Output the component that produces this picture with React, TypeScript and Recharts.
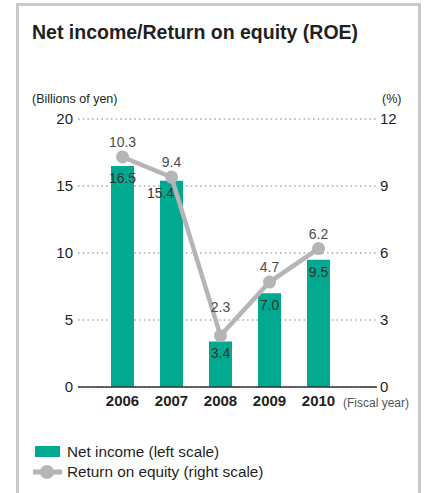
import { ComposedChart, Bar, Line, XAxis, YAxis, CartesianGrid, LabelList } from "recharts";

const years = ["2006", "2007", "2008", "2009", "2010"];
const netIncome = [16.5, 15.4, 3.4, 7.0, 9.5];
const roe = [10.3, 9.4, 2.3, 4.7, 6.2];
const leftTicks = [0, 5, 10, 15, 20];
const rightTicks = [0, 3, 6, 9, 12];

const data = years.map((year, i) => ({ year, income: netIncome[i], roe: roe[i] }));

const TEAL = "#00a98f";
const GRAY = "#b5b5b5";
const INK = "#231f20";
const FONT = "'Liberation Sans', Arial, Helvetica, sans-serif";

// small nudges so labels don't sit on the line (by category index)
const barLabelShift: Record<number, number> = { 1: -11 };
const roeLabelLift: Record<number, number> = { 2: 14 };

function BarValue(props: any) {
  const { x, y, width, value, index } = props;
  const cx = x + width / 2 + (barLabelShift[index] || 0);
  return (
    <text x={cx} y={y + 17} textAnchor="middle" fontSize={14} fill="#333" fontFamily={FONT}>
      {value.toFixed(1)}
    </text>
  );
}

function RoeValue(props: any) {
  const { x, y, value, index } = props;
  return (
    <text x={x} y={y - 10 - (roeLabelLift[index] || 0)} textAnchor="middle" fontSize={14} fill="#4d4d4d" fontFamily={FONT}>
      {value.toFixed(1)}
    </text>
  );
}

export default function App() {
  return (
    <div style={{ position: "absolute", left: 0, top: 0, width: 426, height: 493, background: "#fff", fontFamily: FONT, overflow: "hidden" }}>
      <div
        style={{
          position: "absolute",
          left: 16,
          top: 3,
          width: 405,
          height: 500,
          boxSizing: "border-box",
          borderStyle: "solid",
          borderColor: "#c9cacb",
          borderWidth: "3px 3px 0 3px",
        }}
      />
      <div style={{ position: "absolute", left: 32, top: 21, fontSize: 19.5, fontWeight: 700, color: INK, whiteSpace: "nowrap" }}>
        Net income/Return on equity (ROE)
      </div>
      <div style={{ position: "absolute", left: 32, top: 92, fontSize: 12.5, color: INK }}>(Billions of yen)</div>
      <div style={{ position: "absolute", left: 382, top: 92, fontSize: 12.5, color: INK }}>(%)</div>
      <div style={{ position: "absolute", left: 343, top: 396, fontSize: 12, color: "#555" }}>(Fiscal year)</div>

      <div style={{ position: "absolute", left: 0, top: 0 }}>
        <ComposedChart width={426} height={417} data={data} margin={{ top: 119, right: 0, bottom: 0, left: 0 }}>
          <CartesianGrid yAxisId="left" vertical={false} stroke="#a8a8a8" strokeWidth={1.5} strokeDasharray="1.5 3.2" />
          <XAxis
            dataKey="year"
            padding={{ left: 20, right: 34 }}
            tickLine={false}
            axisLine={{ stroke: "#333", strokeWidth: 1.5 }}
            tick={{ fontSize: 15, fontWeight: 700, fill: INK, fontFamily: FONT }}
            height={30}
          />
          <YAxis
            yAxisId="left"
            domain={[0, 20]}
            ticks={leftTicks}
            width={78}
            axisLine={false}
            tickLine={false}
            tickSize={3}
            tick={{ fontSize: 15, fill: INK, fontFamily: FONT }}
          />
          <YAxis
            yAxisId="right"
            orientation="right"
            domain={[0, 12]}
            ticks={rightTicks}
            width={49}
            axisLine={false}
            tickLine={false}
            tickSize={1}
            tick={{ fontSize: 15, fill: INK, fontFamily: FONT, textAnchor: "start" }}
          />
          <Bar yAxisId="left" dataKey="income" fill={TEAL} barSize={23} isAnimationActive={false}>
            <LabelList dataKey="income" content={<BarValue />} />
          </Bar>
          <Line
            yAxisId="right"
            dataKey="roe"
            stroke={GRAY}
            strokeWidth={4.5}
            dot={{ r: 6.5, fill: GRAY, stroke: GRAY, strokeWidth: 0 }}
            isAnimationActive={false}
          >
            <LabelList dataKey="roe" content={<RoeValue />} />
          </Line>
        </ComposedChart>
      </div>

      <div style={{ position: "absolute", left: 33, top: 442, fontSize: 15.3, color: INK, lineHeight: "20px" }}>
        <div style={{ display: "flex", alignItems: "center" }}>
          <svg width={30} height={20} style={{ marginRight: 4 }}>
            <rect x={2} y={4} width={25} height={11} fill={TEAL} />
          </svg>
          Net income (left scale)
        </div>
        <div style={{ display: "flex", alignItems: "center" }}>
          <svg width={30} height={20} style={{ marginRight: 4 }}>
            <line x1={0} y1={10} x2={29} y2={10} stroke={GRAY} strokeWidth={5} />
            <circle cx={14} cy={10} r={7} fill={GRAY} />
          </svg>
          Return on equity (right scale)
        </div>
      </div>
    </div>
  );
}
